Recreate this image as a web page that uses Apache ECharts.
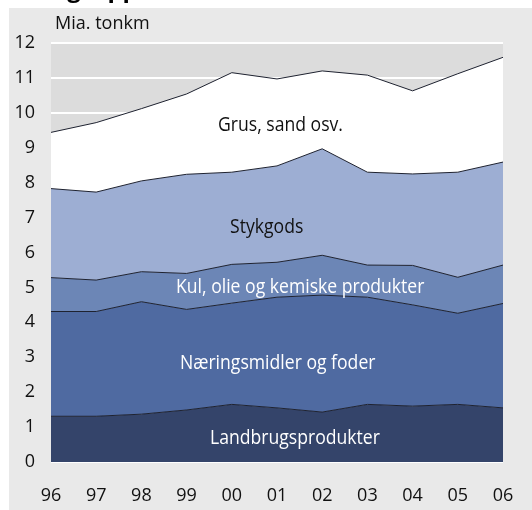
<!DOCTYPE html>
<html lang="da">
	<head>
		<meta charset="UTF-8" />
		<title>Varegrupper</title>
		<script src="https://cdn.jsdelivr.net/npm/echarts@6/dist/echarts.min.js"></script>
		<style>
			body { margin: 0; }
		</style>
	</head>
	<body>
		<div id="main" style="width: 532px; height: 510px"></div>
		<script>
			// data, mia. tonkm
			var years = ["96", "97", "98", "99", "00", "01", "02", "03", "04", "05", "06"];
			var landbrug = [1.31, 1.31, 1.37, 1.49, 1.65, 1.55, 1.43, 1.65, 1.6, 1.65, 1.55];
			var naering = [3.0, 3.0, 3.22, 2.88, 2.9, 3.17, 3.35, 3.07, 2.9, 2.61, 2.99];
			var kul = [0.97, 0.9, 0.86, 1.03, 1.11, 1.0, 1.14, 0.92, 1.13, 1.03, 1.1];
			var stykgods = [2.55, 2.52, 2.6, 2.84, 2.64, 2.76, 3.05, 2.66, 2.62, 3.01, 2.95];
			var grus = [1.61, 1.99, 2.07, 2.3, 2.85, 2.49, 2.23, 2.78, 2.38, 2.82, 3.0];

			var font = "'Open Sans', sans-serif";
			var myChart = echarts.init(document.getElementById("main"));

			function layer(name, data, color) {
				return {
					name: name,
					type: "line",
					stack: "total",
					data: data,
					symbol: "none",
					lineStyle: { color: "#1e2230", width: 1 },
					areaStyle: { color: color, opacity: 1 },
					silent: true,
				};
			}

			// tekst i felterne (smal skrift efterlignes med scaleX)
			function label(text, x, y, color) {
				return {
					type: "text",
					left: x,
					top: y,
					z: 100,
					scaleX: 0.88,
					style: { text: text, fill: color, font: "20px " + font },
				};
			}

			var option = {
				backgroundColor: "#e9e9e9",
				animation: false,
				grid: {
					left: 51,
					right: 29,
					top: 43,
					bottom: 48,
					show: true,
					backgroundColor: "#dcdcdc",
					borderWidth: 0,
				},
				xAxis: {
					type: "category",
					data: years,
					boundaryGap: false,
					axisLine: { show: false },
					axisTick: { show: false },
					axisLabel: { fontSize: 18, color: "#111", margin: 25, fontFamily: font },
				},
				yAxis: {
					type: "value",
					min: 0,
					max: 12,
					interval: 1,
					axisLine: { show: false },
					axisTick: { show: false },
					axisLabel: { fontSize: 18, color: "#111", margin: 16, fontFamily: font },
					splitLine: { lineStyle: { color: "#ffffff", width: 2 } },
				},
				series: [
					layer("Landbrugsprodukter", landbrug, "#34446a"),
					layer("Næringsmidler og foder", naering, "#4f6aa1"),
					layer("Kul, olie og kemiske produkter", kul, "#6c86b6"),
					layer("Stykgods", stykgods, "#9daed3"),
					layer("Grus, sand osv.", grus, "#ffffff"),
				],
				graphic: [
					{ type: "rect", left: 0, top: 0, shape: { width: 532, height: 8 }, style: { fill: "#fff" } },
					{ type: "rect", left: 0, top: 0, shape: { width: 9, height: 510 }, style: { fill: "#fff" } },
					{
						type: "text",
						left: 12,
						top: -22,
						style: { text: "Varegrupper", fill: "#000", font: "bold 24px " + font },
					},
					{
						type: "text",
						left: 55,
						top: 15,
						style: { text: "Mia. tonkm", fill: "#111", font: "18px " + font },
					},
					label("Grus, sand osv.", 218, 115, "#111"),
					label("Stykgods", 230, 217, "#111"),
					label("Kul, olie og kemiske produkter", 176, 277, "#fff"),
					label("Næringsmidler og foder", 180, 353, "#fff"),
					label("Landbrugsprodukter", 210, 428, "#fff"),
				],
			};

			myChart.setOption(option);
		</script>
	</body>
</html>
